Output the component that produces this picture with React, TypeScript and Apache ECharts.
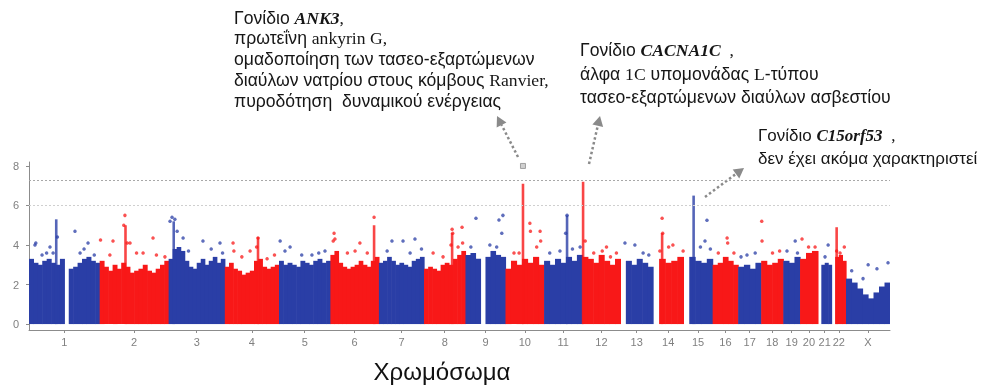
import React, { useEffect, useRef } from "react";
import * as echarts from "echarts";

// ---------- DATA ----------
const chromosomes = ["1","2","3","4","5","6","7","8","9","10","11","12","13","14","15","16","17","18","19","20","21","22","X"];
const chromLengthsMb = [249,243,198,191,181,171,159,146,141,136,135,134,115,107,103,90,81,78,59,63,48,51,155];

// dense body of points: top of the cloud per equal-width bin of each chromosome (null = no markers)
const bandTops: (number | null)[][] = [
  [3.3, 3.1, 3.0, 3.2, 3.3, 3.1, 3.0, 3.3, null, 2.8, 2.9, 3.1, 3.3, 3.4, 3.2, 3.1],
  [3.2, 2.9, 2.7, 3.0, 2.8, 3.1, 2.9, 2.6, 2.7, 2.8, 3.0, 2.7, 2.6, 2.8, 3.0, 3.2],
  [3.3, 3.8, 3.9, 3.7, 3.2, 2.9, 2.8, 3.1, 3.3, 3.0, 3.2, 3.4, 3.1, 3.3],
  [2.9, 3.1, 2.8, 2.7, 2.5, 2.6, 2.7, 3.2, 3.3, 2.9, 2.8, 2.9, 3.0],
  [3.2, 3.0, 3.1, 3.0, 2.9, 3.2, 3.1, 3.0, 3.2, 3.3, 3.1, 3.2],
  [3.5, 3.7, 3.1, 2.9, 2.8, 2.9, 3.0, 3.2, 3.0, 2.9, 3.2, 3.4],
  [3.1, 3.2, 3.4, 3.2, 3.0, 3.1, 3.0, 2.9, 3.2, 3.3, 3.4],
  [2.8, 2.9, 2.8, 2.7, 3.0, 3.1, 3.0, 3.3, 3.5, 3.7],
  [3.5, 3.6, 3.3, null, 3.4, 3.7, 3.5, 3.4],
  [2.8, 3.2, 3.0, 3.3, 3.1, 3.4, 3.0],
  [3.2, 3.0, 3.3, 3.1, 3.4, 3.2, 3.5],
  [3.4, 3.3, 3.1, 3.5, 3.2, 3.0, 3.3],
  [null, 3.2, 3.0, 3.3, 3.1, 2.9],
  [null, 3.3, 3.1, 3.2, 3.4],
  [null, 3.4, 3.2, 3.1, 3.3],
  [3.0, 3.1, 3.4, 3.2, 3.0],
  [2.9, 3.0, 2.8, 3.1],
  [3.2, 3.0, 3.1, 3.3],
  [3.2, 3.1, 3.4],
  [3.3, 3.6, 3.7],
  [null, 3.0, 3.1, 3.0],
  [null, 3.4, 3.5, 3.2],
  [2.3, 2.1, 1.8, 1.5, 1.3, 1.6, 1.9, 2.1],
];

// individual markers above the cloud: [chromosome, position Mb, -log10 p]
const hits: [string, number, number][] = [
  ["1",21,4.0],["1",24,4.1],["1",46,3.5],["1",62,3.6],["1",74,3.9],["1",85,3.6],["1",100,4.4],["1",162,4.7],["1",180,3.6],["1",194,3.8],["1",208,4.1],["1",230,3.5],
  ["2",3,4.25],["2",36,3.5],["2",47,4.2],["2",85,5.0],["2",89,5.5],["2",97,4.1],["2",107,4.1],["2",130,3.6],["2",153,3.6],["2",188,4.35],["2",200,3.5],["2",230,3.4],
  ["3",5,5.2],["3",12,5.4],["3",22,5.3],["3",30,4.7],["3",51,4.35],["3",70,3.7],["3",121,4.2],["3",150,3.8],["3",181,4.1],["3",190,3.6],
  ["4",29,4.1],["4",32,3.7],["4",60,3.4],["4",89,3.7],["4",112,3.9],["4",117,4.35],["4",149,3.3],["4",175,3.5],
  ["5",4,4.2],["5",21,3.7],["5",39,3.9],["5",80,3.5],["5",116,3.5],["5",140,3.6],["5",162,3.7],
  ["6",10,4.2],["6",13,4.6],["6",16,4.3],["6",60,3.6],["6",87,3.7],["6",104,4.1],["6",130,3.6],["6",154,5.4],
  ["7",29,3.7],["7",46,4.2],["7",85,4.2],["7",110,3.6],["7",127,4.3],["7",150,3.8],
  ["8",32,3.6],["8",67,3.4],["8",95,4.0],["8",99,4.8],["8",101,4.6],["8",120,3.9],["8",134,4.9],["8",136,4.1],
  ["9",19,3.9],["9",37,5.35],["9",86,4.0],["9",110,3.9],["9",118,5.27],["9",128,4.6],["9",132,5.5],
  ["10",30,3.6],["10",48,3.6],["10",86,5.1],["10",88,4.7],["10",110,3.9],["10",122,4.7],["10",124,4.2],
  ["11",20,3.6],["11",56,3.7],["11",76,4.6],["11",81,5.5],["11",100,3.8],["11",127,3.9],
  ["12",10,4.2],["12",40,3.6],["12",70,3.7],["12",85,3.9],["12",99,3.4],["12",120,3.6],
  ["13",16,4.1],["13",51,4.0],["13",80,3.6],["13",100,3.5],
  ["14",24,3.7],["14",32,5.35],["14",34,4.6],["14",55,3.9],["14",70,4.0],["14",106,3.7],
  ["15",60,3.9],["15",76,4.2],["15",83,5.25],["15",95,3.8],
  ["16",20,3.6],["16",51,4.35],["16",53,4.1],["16",75,3.6],
  ["17",10,3.4],["17",31,3.5],["17",60,3.6],
  ["18",2,5.2],["18",3,4.2],["18",40,3.6],["18",65,3.7],
  ["19",13,3.7],["19",42,4.2],["19",50,3.6],
  ["20",7,4.3],["20",30,3.9],["20",53,3.9],
  ["21",25,3.4],["21",36,4.0],
  ["22",18,3.7],["22",30,3.6],["22",45,3.9],
  ["X",20,2.7],["X",60,2.3],["X",78,3.0],["X",109,2.8],["X",148,3.1],
];

// stacked columns of markers at association peaks: [chromosome, position Mb, top]
const peakColumns: [string, number, number][] = [
  ["1",96,5.3],["2",91,5.0],["3",18,5.2],["4",117,4.4],["6",154,5.0],["8",99,4.6],
  ["10",61.7,7.1],["11",81,5.5],["12",2.5,7.2],["14",32,4.6],["15",36,6.5],["22",18,4.9],
];
const topMarker: [string, number, number] = ["10", 61.7, 8.0];

const yTicks = [0, 2, 4, 6, 8];
const genomeWideLine = 7.3;
const suggestiveLine = 6;

// ---------- HELPERS ----------
const BLUE = "#2a3ea6";
const RED = "#f81818";
const starts: number[] = [];
{
  let s = 0;
  for (const l of chromLengthsMb) { starts.push(s); s += l; }
}
const totalMb = chromLengthsMb.reduce((a, b) => a + b, 0);
const mids = chromLengthsMb.map((l, i) => starts[i] + l / 2);
const ci = (c: string) => chromosomes.indexOf(c);
const colorOf = (i: number) => (i % 2 === 0 ? BLUE : RED);

const serifF = '"Liberation Serif", "Times New Roman", serif';
const sansF = '"Liberation Sans", Arial, sans-serif';
function makeRich(fs: number) {
  return {
    g: { fontFamily: sansF, fontSize: fs, fill: "#161616" },
    t: { fontFamily: serifF, fontSize: fs, fill: "#161616" },
    bi: { fontFamily: serifF, fontSize: fs, fontWeight: "bold", fontStyle: "italic", fill: "#161616" },
  };
}
type Seg = [string, string];
function textLine(x: number, y: number, segs: Seg[], fs = 17.6) {
  return {
    type: "text",
    x, y,
    silent: true,
    style: {
      text: segs.map(([k, t]) => `{${k}|${t}}`).join(""),
      rich: makeRich(fs),
      align: "left",
      verticalAlign: "middle",
      fill: "#161616",
      fontSize: fs,
      fontFamily: sansF,
    },
  };
}
function arrow(x1: number, y1: number, x2: number, y2: number) {
  const dx = x2 - x1, dy = y2 - y1, len = Math.hypot(dx, dy);
  const ux = dx / len, uy = dy / len;
  const hl = 10, hw = 5.5;
  const bx = x2 - ux * hl, by = y2 - uy * hl;
  return [
    { type: "line", silent: true, shape: { x1, y1, x2: bx, y2: by }, style: { stroke: "#8a8a8a", lineWidth: 2.5, lineDash: [2.5, 2.5] } },
    { type: "polygon", silent: true, shape: { points: [[x2, y2], [bx - uy * hw, by + ux * hw], [bx + uy * hw, by - ux * hw]] }, style: { fill: "#8a8a8a" } },
  ];
}

export default function App() {
  const ref = useRef<HTMLDivElement>(null);
  useEffect(() => {
    document.body.style.margin = "0";
    const chart = echarts.init(ref.current!, null, { renderer: "svg" });

    const bandData: number[][] = [];
    bandTops.forEach((arr, i) => {
      const w = chromLengthsMb[i] / arr.length;
      arr.forEach((v, j) => {
        if (v == null) return;
        bandData.push([starts[i] + j * w, starts[i] + (j + 1) * w, v, i]);
      });
    });
    const hitData = hits.map(([c, p, v]) => [starts[ci(c)] + p, v, ci(c)]);
    const colData = peakColumns.map(([c, p, v]) => [starts[ci(c)] + p, v, ci(c)]);
    const topData = [[starts[ci(topMarker[0])] + topMarker[1], topMarker[2]]];

    const graphic: any[] = [
      textLine(234, 17.5, [["g", "Γονίδιο "], ["bi", "ANK3"], ["t", ","]]),
      textLine(234, 38.3, [["g", "πρωτεΐνη "], ["t", "ankyrin G,"]]),
      textLine(234, 59, [["g", "ομαδοποίηση των τασεο-εξαρτώμενων"]]),
      textLine(234, 80, [["g", "διαύλων νατρίου στους κόμβους "], ["t", "Ranvier,"]]),
      textLine(234, 100.7, [["g", "πυροδότηση  δυναμικού ενέργειας"]]),
      textLine(580, 50, [["g", "Γονίδιο "], ["bi", "CACNA1C"], ["t", "  ,"]]),
      textLine(580, 74, [["g", "άλφα "], ["t", "1C"], ["g", " υπομονάδας "], ["t", "L"], ["g", "-τύπου"]]),
      textLine(580, 96.5, [["g", "τασεο-εξαρτώμενων διαύλων ασβεστίου"]]),
      textLine(758, 135, [["g", "Γονίδιο "], ["bi", "C15orf53"], ["t", "  ,"]], 17),
      textLine(758, 158, [["g", "δεν έχει ακόμα χαρακτηριστεί"]], 17),
      ...arrow(518, 157, 497, 116),
      ...arrow(589, 164, 600, 116),
      ...arrow(705, 197, 744, 168),
      {
        type: "text", x: 442, y: 371, silent: true,
        style: { text: "Χρωμόσωμα", fontFamily: sansF, fontSize: 24, fill: "#111", align: "center", verticalAlign: "middle" },
      },
    ];

    chart.setOption({
      animation: false,
      grid: { left: 29, right: 94, top: 162, bottom: 55, containLabel: false },
      xAxis: {
        type: "value",
        min: 0,
        max: totalMb,
        axisLine: { show: true, onZero: false, lineStyle: { color: "#8c8c8c", width: 1 } },
        axisTick: { show: true, customValues: mids, length: 3, lineStyle: { color: "#8c8c8c" } },
        axisLabel: {
          customValues: mids,
          color: "#808080",
          fontSize: 11,
          fontFamily: sansF,
          margin: 6,
          formatter: (v: number) => {
            const k = mids.findIndex((m) => Math.abs(m - v) < 0.01);
            return k >= 0 ? chromosomes[k] : "";
          },
        },
        splitLine: { show: false },
      },
      yAxis: {
        type: "value",
        min: -0.3,
        max: 8.2,
        axisLine: { show: true, onZero: false, lineStyle: { color: "#8c8c8c", width: 1 } },
        axisTick: { show: true, customValues: yTicks, length: 3, lineStyle: { color: "#8c8c8c" } },
        axisLabel: { customValues: yTicks, color: "#808080", fontSize: 11, fontFamily: sansF, margin: 10 },
        splitLine: { show: false },
      },
      series: [
        {
          type: "custom",
          name: "band",
          clip: true,
          silent: true,
          encode: { x: [0, 1], y: 2 },
          data: bandData,
          renderItem: (_p: any, api: any) => {
            const x0 = api.value(0), x1 = api.value(1), top = api.value(2), c = api.value(3);
            const p0 = api.coord([x0, 0]);
            const p1 = api.coord([x1, top]);
            return {
              type: "rect",
              shape: { x: p0[0], y: p1[1], width: p1[0] - p0[0] + 0.6, height: p0[1] - p1[1] },
              style: { fill: colorOf(c) },
            };
          },
        },
        {
          type: "custom",
          name: "columns",
          clip: true,
          silent: true,
          encode: { x: 0, y: 1 },
          data: colData,
          renderItem: (_p: any, api: any) => {
            const x = api.value(0), top = api.value(1), c = api.value(2);
            const p0 = api.coord([x, 0]);
            const p1 = api.coord([x, top]);
            return {
              type: "rect",
              shape: { x: p0[0] - 1.3, y: p1[1], width: 2.6, height: p0[1] - p1[1] },
              style: { fill: colorOf(c), opacity: 0.8 },
            };
          },
        },
        {
          type: "scatter",
          name: "hits",
          silent: true,
          symbolSize: 3.5,
          data: hitData,
          itemStyle: { color: (p: any) => colorOf(p.data[2]), opacity: 0.75 },
          markLine: {
            silent: true,
            symbol: ["none", "none"],
            label: { show: false },
            data: [
              { yAxis: genomeWideLine, lineStyle: { color: "#a8a8a8", type: [2, 2], width: 1 } },
              { yAxis: suggestiveLine, lineStyle: { color: "#cfcfcf", type: [2, 2], width: 1 } },
            ],
          },
        },
        {
          type: "scatter",
          name: "top",
          silent: true,
          symbol: "rect",
          symbolSize: 5,
          data: topData,
          itemStyle: { color: "#c4c4c4", borderColor: "#8f8f8f", borderWidth: 1 },
        },
      ],
      graphic,
    });
    return () => chart.dispose();
  }, []);
  return <div ref={ref} style={{ position: "fixed", left: 0, top: 0, width: 984, height: 385 }} />;
}
